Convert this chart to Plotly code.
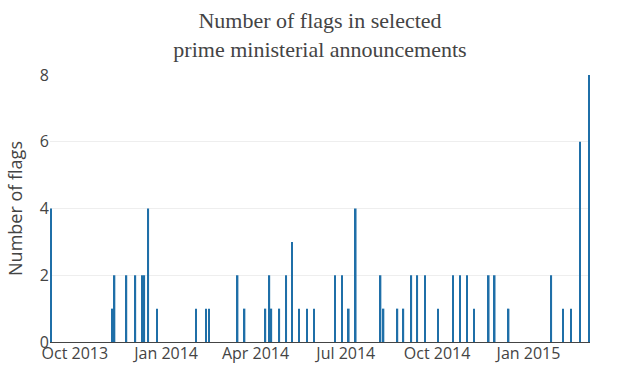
import plotly.graph_objects as go

dates = [
    "2013-09-07", "2013-11-08", "2013-11-10", "2013-11-22", "2013-12-01",
    "2013-12-08", "2013-12-10", "2013-12-14", "2013-12-23",
    "2014-01-31", "2014-02-10", "2014-02-13", "2014-03-14", "2014-03-21",
    "2014-04-11", "2014-04-15", "2014-04-17", "2014-04-25", "2014-05-02",
    "2014-05-08", "2014-05-15", "2014-05-23", "2014-05-30", "2014-06-20",
    "2014-06-27", "2014-07-04", "2014-07-11", "2014-08-05", "2014-08-08",
    "2014-08-22", "2014-08-28", "2014-09-05", "2014-09-11", "2014-09-19",
    "2014-10-02", "2014-10-17", "2014-10-24", "2014-10-31", "2014-11-07",
    "2014-11-22", "2014-11-28", "2014-12-12",
    "2015-01-24", "2015-02-05", "2015-02-13", "2015-02-22", "2015-03-03",
]
flags = [
    4, 1, 2, 2, 2,
    2, 2, 4, 1,
    1, 1, 1, 2, 1,
    1, 2, 1, 1, 2,
    3, 1, 1, 1, 2,
    2, 1, 4, 2, 1,
    1, 1, 2, 2, 2,
    1, 2, 2, 2, 1,
    2, 2, 1,
    2, 1, 1, 6, 8,
]
y_ticks = [0, 2, 4, 6, 8]

fig = go.Figure(go.Bar(x=dates, y=flags, marker=dict(color="#1f6fa8")))

fig.update_layout(
    template="none",
    width=620, height=372,
    margin=dict(l=50, r=30, t=75, b=30, autoexpand=False),
    paper_bgcolor="white", plot_bgcolor="white",
    title=dict(
        text="Number of flags in selected<br>prime ministerial announcements",
        x=0.5, xanchor="center", xref="paper",
        y=1 - 28 / 372, yanchor="middle", yref="container",
        font=dict(family="Liberation Serif, DejaVu Serif, serif", size=22, color="#444"),
    ),
    font=dict(family="Open Sans, sans-serif", color="#444"),
    showlegend=False,
)
fig.update_xaxes(
    type="date", dtick="M3", tick0="2013-10-01", tickformat="%b %Y",
    showgrid=False, tickfont=dict(size=16), ticks="", zeroline=False,
    automargin=False,
)
fig.update_yaxes(
    range=[0, 8], tickvals=y_ticks, tickfont=dict(size=16),
    gridcolor="#eee", zeroline=True, zerolinecolor="#444", zerolinewidth=1,
    title=dict(text="Number of flags", font=dict(size=18), standoff=12),
    automargin=False,
)
fig.write_html(
    "out.html",
    config={"displayModeBar": False},
    post_script="document.body.style.margin='0';",
)
